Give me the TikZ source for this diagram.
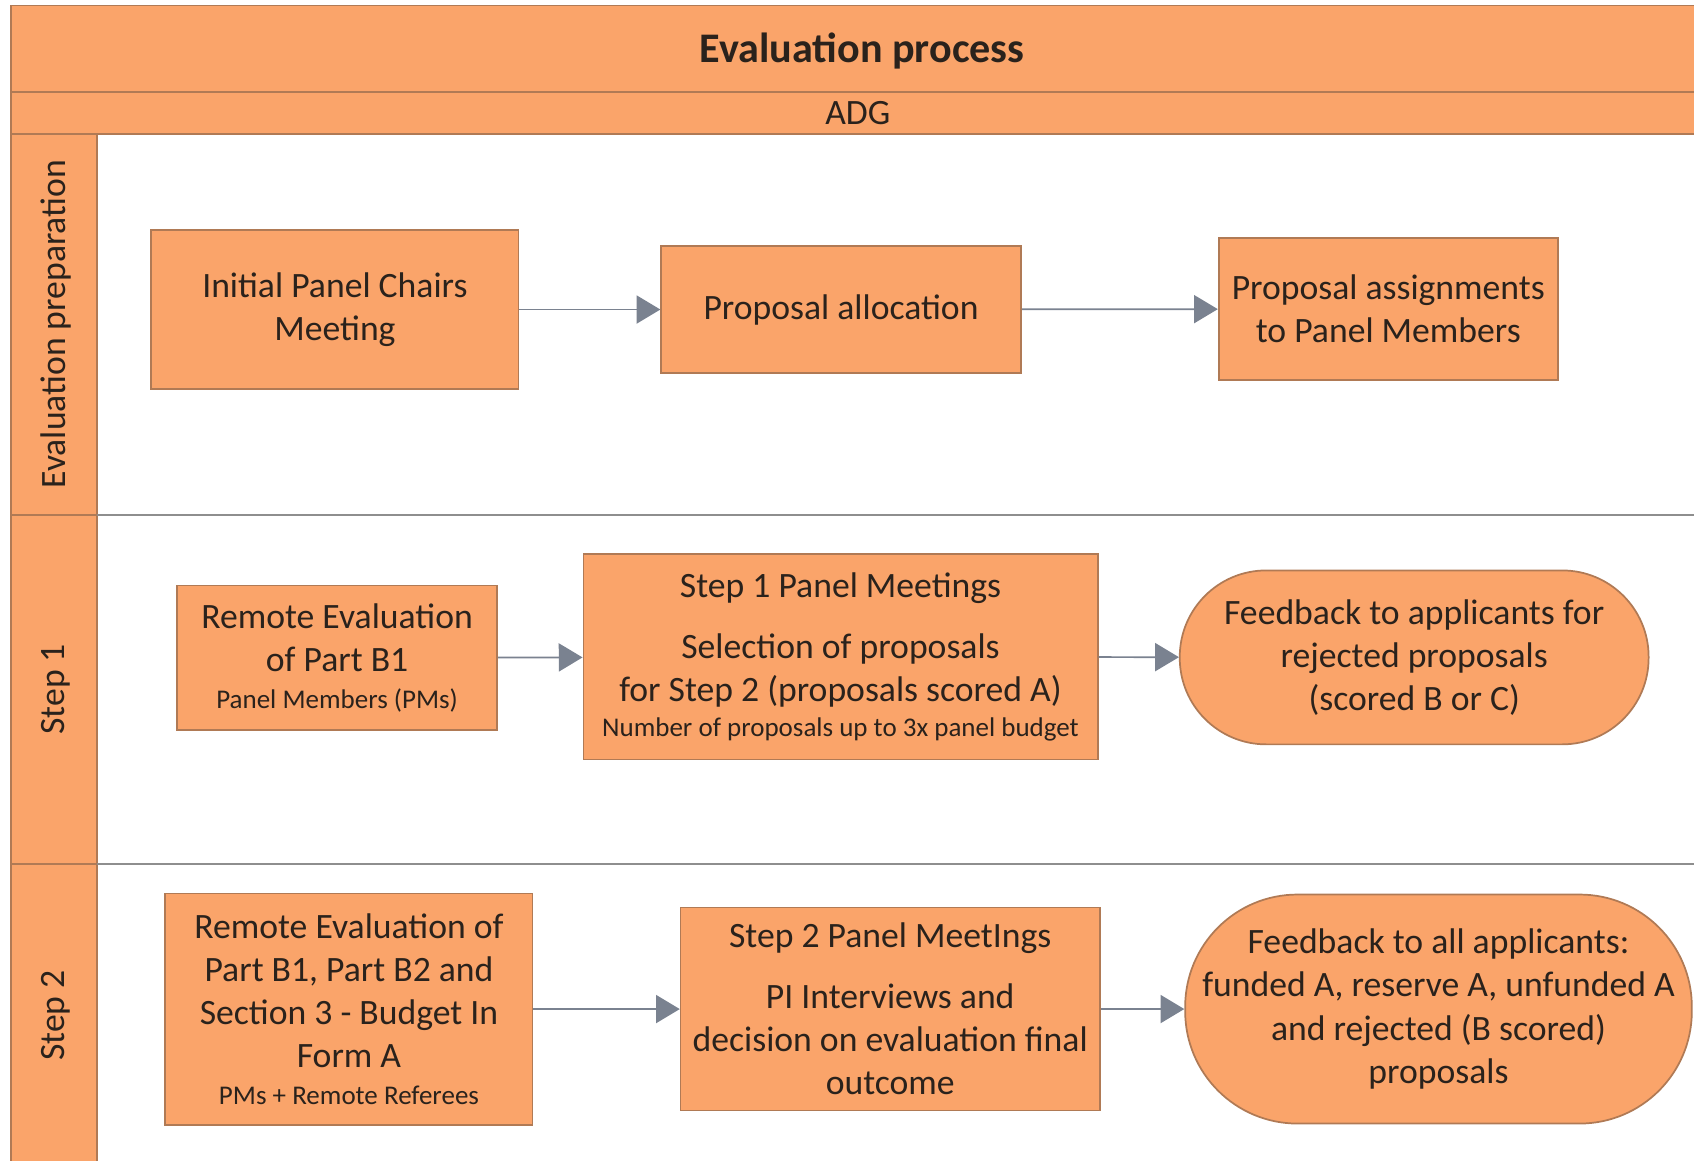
\documentclass[tikz,border=0pt]{standalone}
\usepackage{fontspec}
\setmainfont{Carlito}
\usetikzlibrary{arrows.meta}
\definecolor{orng}{HTML}{FAA46A}
\definecolor{bord}{HTML}{B07A55}
\definecolor{lanel}{HTML}{8E8E8E}
\definecolor{arr}{HTML}{7A8290}
\definecolor{txt}{HTML}{2A221C}
\newcommand{\smalltxt}{\fontsize{12.5}{15}\selectfont}
\begin{document}
\begin{tikzpicture}[x=0.5pt,y=-0.5pt,
  box/.style={draw=bord,line width=0.8pt,fill=orng,text=txt,align=center,inner sep=0pt,
    font=\fontsize{16.5}{20}\selectfont},
  stad/.style={box,rounded corners=40pt},
  flow/.style={draw=arr,line width=0.8pt,-{Triangle[length=11pt,width=13pt]}},
  lane/.style={text=txt,rotate=90,font=\fontsize{16.5}{20}\selectfont}]
\useasboundingbox (0,0) rectangle (1568,1074);
% frame
\fill[white] (0,0) rectangle (1568,1074);
\draw[bord,fill=orng,line width=0.8pt] (10,5) rectangle (1580,85);
\draw[bord,fill=orng,line width=0.8pt] (10,85) rectangle (1580,124);
\draw[bord,fill=orng,line width=0.8pt] (10,124) rectangle (90,1090);
\draw[lanel,line width=1pt] (90,477) -- (1580,477);
\draw[lanel,line width=1pt] (90,800) -- (1580,800);
\draw[bord,line width=0.8pt] (10,477) -- (90,477) (10,800) -- (90,800);
\node[text=txt,font=\fontsize{19.5}{22}\selectfont\bfseries] (title) at (798,47) {Evaluation process};
\node[text=txt,font=\fontsize{16.5}{20}\selectfont] (adg) at (794,105) {ADG};
\node[lane] (l1) at (52,300) {Evaluation preparation};
\node[lane] (l2) at (52,638) {Step 1};
\node[lane] (l3) at (52,940) {Step 2};
% nodes
\node[box,minimum width=170pt,minimum height=73.5pt] (ipc) at (310,286.5) {Initial Panel Chairs\\Meeting};
\node[box,minimum width=166.5pt,minimum height=58.5pt] (pa) at (778.5,286.5) {Proposal allocation};
\node[box,minimum width=157pt,minimum height=66pt] (papm) at (1285,286) {Proposal assignments\\to Panel Members};
\node[box,minimum width=148pt,minimum height=67pt] (re1) at (312,609) {Remote Evaluation\\of Part B1\\[-3pt]{\smalltxt Panel Members (PMs)}};
\node[box,minimum width=238pt,minimum height=95pt] (s1) at (778,608) {Step 1 Panel Meetings\\[8pt]Selection of proposals\\for Step 2 (proposals scored A)\\[-4pt]{\smalltxt Number of proposals up to 3x panel budget}};
\node[stad,minimum width=217pt,minimum height=80.5pt] (fb1) at (1309,608.5) {Feedback to applicants for\\rejected proposals\\(scored B or C)};
\node[box,minimum width=170pt,minimum height=107pt] (re2) at (323,934) {Remote Evaluation of\\Part B1, Part B2 and\\Section 3 - Budget In\\Form A\\[-3pt]{\smalltxt PMs + Remote Referees}};
\node[box,minimum width=194pt,minimum height=94pt] (s2) at (824,934) {Step 2 Panel MeetIngs\\[8pt]PI Interviews and\\decision on evaluation final\\outcome};
\node[stad,rounded corners=52pt,minimum width=234.5pt,minimum height=106pt] (fb2) at (1331.5,934) {Feedback to all applicants:\\funded A, reserve A, unfunded A\\and rejected (B scored)\\proposals};
% connectors
\draw[flow] (ipc) -- (pa);
\draw[flow] (pa) -- (papm);
\draw[flow] (re1) -- (s1);
\draw[flow] (s1) -- (fb1);
\draw[flow] (re2) -- (s2);
\draw[flow] (s2) -- (fb2);
\end{tikzpicture}
\end{document}
